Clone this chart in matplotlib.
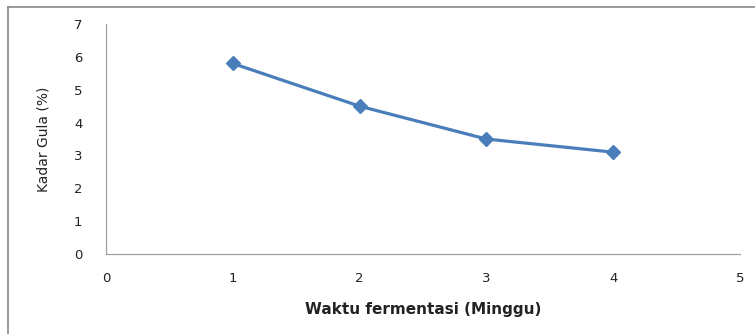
import matplotlib.pyplot as plt
from matplotlib.lines import Line2D

# data
minggu = [1, 2, 3, 4]
kadar_gula = [5.8, 4.5, 3.5, 3.1]
x_ticks = [0, 1, 2, 3, 4, 5]
y_ticks = [0, 1, 2, 3, 4, 5, 6, 7]

fig = plt.figure(figsize=(7.55, 3.34), dpi=100)
ax = fig.add_axes([0.1404, 0.2395, 0.8396, 0.6885])

ax.plot(minggu, kadar_gula, color='#4A7EBB', linewidth=2.3,
        marker='D', markersize=7, markerfacecolor='#4A7EBB',
        markeredgecolor='#4A7EBB')

ax.set_xlim(0, 5)
ax.set_ylim(0, 7)
ax.set_xticks(x_ticks)
ax.set_yticks(y_ticks)
ax.tick_params(length=0, labelsize=9.5, colors='#222222', pad=13)
ax.tick_params(axis='y', pad=17)

for s in ['top', 'right']:
    ax.spines[s].set_visible(False)
for s in ['left', 'bottom']:
    ax.spines[s].set_color('#A0A0A0')
    ax.spines[s].set_linewidth(0.9)

ax.set_xlabel('Waktu fermentasi (Minggu)', fontsize=11, fontweight='bold',
              color='#222222')
ax.xaxis.set_label_coords(0.5, -0.21)
ax.set_ylabel('Kadar Gula (%)', fontsize=10,
              family=['Liberation Sans Narrow', 'DejaVu Sans'], color='#222222')
ax.yaxis.set_label_coords(-0.088, 0.5)

# outer chart frame (only top and left edges visible in the crop)
W, H = 755, 334
fig.add_artist(Line2D([8 / W, 8 / W], [0, 1 - 7 / H], color='#888888',
                      linewidth=1.2, transform=fig.transFigure))
fig.add_artist(Line2D([8 / W, 1], [1 - 7 / H, 1 - 7 / H], color='#888888',
                      linewidth=1.2, transform=fig.transFigure))

fig.savefig('out.png', dpi=100)
